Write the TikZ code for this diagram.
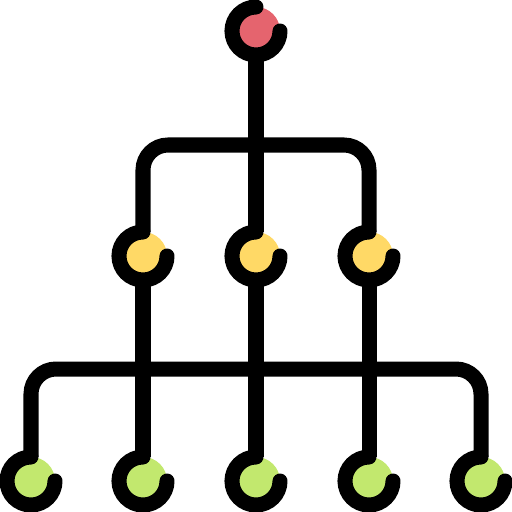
\documentclass[tikz,border=0pt]{standalone}
\definecolor{rootred}{HTML}{E5646E}
\definecolor{midyellow}{HTML}{FFD966}
\definecolor{leafgreen}{HTML}{C2E86E}
\begin{document}
\begin{tikzpicture}[x=0.01cm, y=-0.01cm, line width=0.15cm,
		every node/.style={circle, inner sep=0pt, outer sep=0pt, minimum size=0.48cm}]
		\useasboundingbox (0,0) rectangle (512,512);
		
		% Nodes
		\node[fill=rootred] (r) at (256,31) {};
		\node[fill=midyellow] (y1) at (143,256) {};
		\node[fill=midyellow] (y2) at (256,256) {};
		\node[fill=midyellow] (y3) at (369,256) {};
		\node[fill=leafgreen] (g1) at (31,481) {};
		\node[fill=leafgreen] (g2) at (143,481) {};
		\node[fill=leafgreen] (g3) at (256,481) {};
		\node[fill=leafgreen] (g4) at (369,481) {};
		\node[fill=leafgreen] (g5) at (481,481) {};
		
		% Bars
		\coordinate (tb) at (256,145);
		\coordinate (lb) at (256,369);
		
		% Draw edges
		\draw[rounded corners=0.25cm] (y1) |- (tb) -| (y3);
		\draw[rounded corners=0.25cm] (g1) |- (lb) -| (g5);
		\draw (r) -- (y2);
		\draw (y1) -- (g2);
		\draw (y2) -- (g3);
		\draw (y3) -- (g4);
		
		% Draw open rings
		\foreach \p in {r,y1,y2,y3,g1,g2,g3,g4,g5}
		\draw[line cap=round] (\p.north) arc[start angle=90, end angle=360, radius=0.24cm];
	\end{tikzpicture}
\end{document}
